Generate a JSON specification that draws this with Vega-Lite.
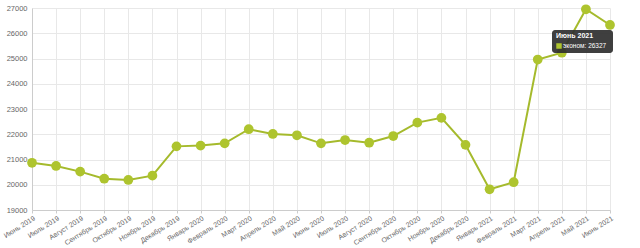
{
  "$schema": "https://vega.github.io/schema/vega-lite/v6.json",
  "width": 578,
  "height": 202,
  "autosize": {"type": "none"},
  "padding": {"left": 32, "top": 8, "right": 30, "bottom": 38},
  "background": "white",
  "config": {"view": {"stroke": null}, "font": "Liberation Sans"},
  "data": {
    "values": [
      {"month": "Июнь 2019", "value": 20870},
      {"month": "Июль 2019", "value": 20745},
      {"month": "Август 2019", "value": 20520},
      {"month": "Сентябрь 2019", "value": 20240},
      {"month": "Октябрь 2019", "value": 20190},
      {"month": "Ноябрь 2019", "value": 20360},
      {"month": "Декабрь 2019", "value": 21520},
      {"month": "Январь 2020", "value": 21550},
      {"month": "Февраль 2020", "value": 21640},
      {"month": "Март 2020", "value": 22200},
      {"month": "Апрель 2020", "value": 22010},
      {"month": "Май 2020", "value": 21960},
      {"month": "Июнь 2020", "value": 21640},
      {"month": "Июль 2020", "value": 21770},
      {"month": "Август 2020", "value": 21665},
      {"month": "Сентябрь 2020", "value": 21930},
      {"month": "Октябрь 2020", "value": 22460},
      {"month": "Ноябрь 2020", "value": 22650},
      {"month": "Декабрь 2020", "value": 21580},
      {"month": "Январь 2021", "value": 19820},
      {"month": "Февраль 2021", "value": 20100},
      {"month": "Март 2021", "value": 24960},
      {"month": "Апрель 2021", "value": 25230},
      {"month": "Май 2021", "value": 26950},
      {"month": "Июнь 2021", "value": 26327}
    ]
  },
  "encoding": {
    "x": {
      "field": "month", "type": "ordinal", "sort": null,
      "scale": {"type": "point", "padding": 0},
      "axis": {
        "title": null, "labelAngle": -32, "labelFontSize": 7, "labelColor": "#666666",
        "grid": true, "gridColor": "#e8e8e8", "domainColor": "#cccccc", "tickColor": "#cccccc",
        "tickSize": 3, "labelPadding": 1, "labelOverlap": false, "labelBound": false
      }
    },
    "y": {
      "field": "value", "type": "quantitative",
      "scale": {"domain": [19000, 27000], "nice": false, "zero": false},
      "axis": {
        "title": null, "values": [19000, 20000, 21000, 22000, 23000, 24000, 25000, 26000, 27000],
        "format": "d",
        "labelFontSize": 7.5, "labelColor": "#666666", "ticks": false, "labelPadding": 5,
        "gridColor": "#e8e8e8", "domain": true, "domainColor": "#cccccc"
      }
    }
  },
  "layer": [
    {"mark": {"type": "line", "color": "#a5ba2c", "strokeWidth": 2}},
    {"mark": {"type": "circle", "color": "#aec42e", "opacity": 1, "size": 95}},
    {
      "transform": [{"filter": "datum.month === 'Июнь 2021'"}],
      "mark": {"type": "rect", "color": "#2f2f2f", "opacity": 0.92, "cornerRadius": 3, "xOffset": -58, "x2Offset": 3, "yOffset": 5, "y2Offset": 28},
      "encoding": {"x2": {"field": "month"}, "y2": {"field": "value"}}
    },
    {
      "transform": [{"filter": "datum.month === 'Июнь 2021'"}],
      "mark": {"type": "text", "color": "white", "fontSize": 7, "fontWeight": "bold", "align": "left", "baseline": "alphabetic", "dx": -54, "dy": 13},
      "encoding": {"text": {"field": "month"}}
    },
    {
      "transform": [{"filter": "datum.month === 'Июнь 2021'"}],
      "mark": {"type": "square", "color": "#aec42e", "opacity": 1, "size": 30, "xOffset": -51, "yOffset": 21},
      "encoding": {}
    },
    {
      "transform": [{"filter": "datum.month === 'Июнь 2021'"}, {"calculate": "'эконом: ' + datum.value", "as": "lbl"}],
      "mark": {"type": "text", "color": "white", "fontSize": 6.5, "align": "left", "baseline": "middle", "dx": -47, "dy": 21},
      "encoding": {"text": {"field": "lbl"}}
    }
  ]
}
